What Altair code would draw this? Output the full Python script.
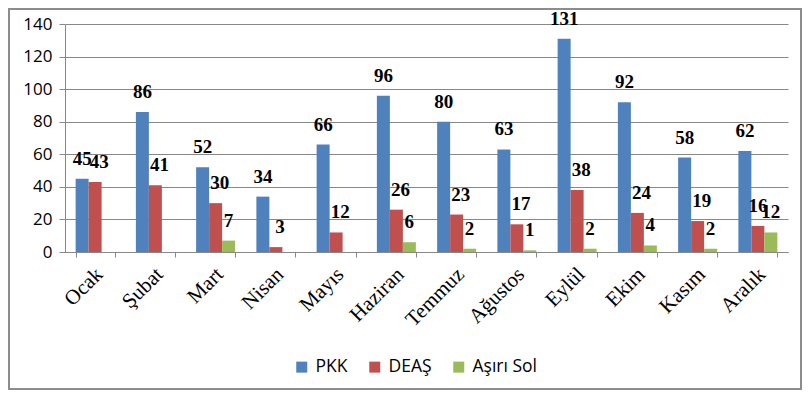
import altair as alt
import pandas as pd

months = ["Ocak", "Şubat", "Mart", "Nisan", "Mayıs", "Haziran",
          "Temmuz", "Ağustos", "Eylül", "Ekim", "Kasım", "Aralık"]
series = ["PKK", "DEAŞ", "Aşırı Sol"]
pkk = [45, 86, 52, 34, 66, 96, 80, 63, 131, 92, 58, 62]
deas = [43, 41, 30, 3, 12, 26, 23, 17, 38, 24, 19, 16]
asiri_sol = [None, None, 7, None, None, 6, 2, 1, 2, 4, 2, 12]
colors = ["#4F81BD", "#C0504D", "#9BBB59"]
y_ticks = [0, 20, 40, 60, 80, 100, 120, 140]

rows = []
for name, vals in zip(series, [pkk, deas, asiri_sol]):
    for m, v in zip(months, vals):
        if v is not None:
            rows.append({"month": m, "series": name, "value": v})
df = pd.DataFrame(rows)

GRID = "#888888"

x_enc = alt.X("month:N", sort=months,
              scale=alt.Scale(paddingInner=0.353, paddingOuter=0.1765),
              axis=alt.Axis(title=None, labelAngle=-45, labelAlign="right",
                            labelBaseline="middle", labelFont="Liberation Serif",
                            labelFontSize=21, labelColor="#000000",
                            labelPadding=14, labelOffset=4, tickBand="extent",
                            tickSize=5, tickColor=GRID, domainColor=GRID, grid=False))
xo_enc = alt.XOffset("series:N", sort=series,
                     scale=alt.Scale(domain=series, paddingInner=0, paddingOuter=0))
y_enc = alt.Y("value:Q",
              scale=alt.Scale(domain=[0, 140], nice=False),
              axis=alt.Axis(title=None, values=y_ticks, labelFont="Open Sans",
                            labelFontSize=17, labelColor="#000000",
                            labelPadding=7, tickSize=6, tickColor=GRID,
                            domainColor=GRID, gridColor=GRID, grid=True))

base = alt.Chart(df)

bars = base.mark_bar().encode(
    x=x_enc, xOffset=xo_enc, y=y_enc,
    color=alt.Color("series:N", sort=series,
                    scale=alt.Scale(domain=series, range=colors),
                    legend=alt.Legend(title=None, orient="none", direction="horizontal",
                                      legendX=228, legendY=334,
                                      symbolType="square", symbolSize=121,
                                      symbolStrokeWidth=0, labelFont="Open Sans",
                                      labelFontSize=17.5, labelColor="#000000",
                                      labelOffset=5, columnPadding=18))
)

def labels(flt, dx):
    return base.transform_filter(flt).mark_text(
        font="Liberation Serif", fontWeight="bold", fontSize=19,
        color="#000000", baseline="alphabetic", dy=-14, dx=dx
    ).encode(x=x_enc, xOffset=xo_enc, y=y_enc, text=alt.Text("value:Q"))

shifted = (alt.datum.series == "DEAŞ") & (alt.datum.month != "Aralık")
lab_main = labels(~shifted, 0)
lab_deas = labels(shifted, 4)

frame = alt.Chart(pd.DataFrame({"f": [0]})).mark_rect(
    fillOpacity=0, stroke="#8c8c8c", strokeWidth=2
).encode(x=alt.value(-56), x2=alt.value(736), y=alt.value(-15), y2=alt.value(365))

chart = alt.layer(bars, lab_main, lab_deas, frame).properties(
    width=723, height=228,
    padding={"left": 57, "top": 16, "right": 14, "bottom": 138},
    autosize=alt.AutoSizeParams(type="none"),
    background="#ffffff",
).configure_view(stroke=None)

chart.save("out.html", embed_options={"renderer": "svg", "actions": False})
